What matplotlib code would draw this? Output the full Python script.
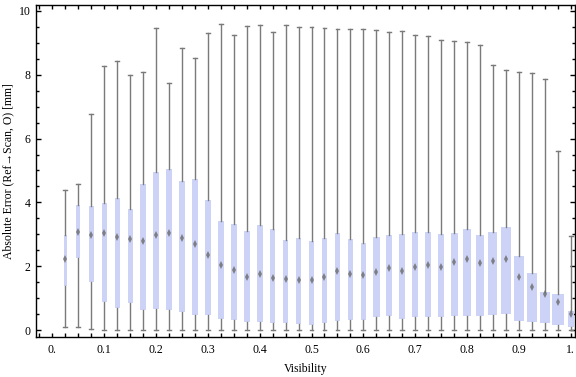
import matplotlib
matplotlib.use("Agg")
import matplotlib.pyplot as plt
from matplotlib.ticker import MultipleLocator, FixedLocator

plt.rcParams['font.family'] = ['Liberation Serif', 'DejaVu Serif']
plt.rcParams['font.size'] = 8.5

# visibility bins and box statistics (absolute error, mm)
visibility = [0.025, 0.05, 0.075, 0.1, 0.125, 0.15, 0.175, 0.2, 0.225, 0.25,
              0.275, 0.3, 0.325, 0.35, 0.375, 0.4, 0.425, 0.45, 0.475, 0.5,
              0.525, 0.55, 0.575, 0.6, 0.625, 0.65, 0.675, 0.7, 0.725, 0.75,
              0.775, 0.8, 0.825, 0.85, 0.875, 0.9, 0.925, 0.95, 0.975, 1.0]

whisker_low = [0.08, 0.08, 0.02] + [0.0] * 37

q1 = [1.39, 2.27, 1.52, 0.87, 0.68, 0.85, 0.64, 0.67, 0.64, 0.57,
      0.48, 0.48, 0.36, 0.32, 0.26, 0.26, 0.23, 0.23, 0.20, 0.17,
      0.23, 0.29, 0.32, 0.32, 0.42, 0.45, 0.36, 0.42, 0.42, 0.42,
      0.45, 0.45, 0.45, 0.48, 0.51, 0.29, 0.26, 0.21, 0.17, 0.10]

median = [2.22, 3.06, 2.97, 3.03, 2.91, 2.84, 2.80, 2.99, 3.05, 2.88,
          2.69, 2.34, 2.03, 1.87, 1.65, 1.75, 1.62, 1.59, 1.56, 1.56,
          1.67, 1.84, 1.76, 1.72, 1.82, 1.93, 1.86, 1.98, 2.05, 1.97,
          2.14, 2.24, 2.09, 2.16, 2.24, 1.66, 1.35, 1.12, 0.87, 0.50]

q3 = [2.98, 3.92, 3.89, 3.98, 4.14, 3.79, 4.59, 4.94, 5.05, 4.67,
      4.73, 4.08, 3.42, 3.32, 3.10, 3.29, 3.17, 2.82, 2.88, 2.79,
      2.88, 3.04, 2.84, 2.73, 2.92, 2.98, 3.01, 3.07, 3.07, 3.01,
      3.04, 3.17, 2.98, 3.07, 3.23, 2.32, 1.79, 1.19, 1.13, 0.60]

whisker_high = [4.39, 4.58, 6.76, 8.28, 8.42, 7.98, 8.09, 9.46, 7.73, 8.83,
                8.52, 9.30, 9.58, 9.25, 9.52, 9.55, 9.33, 9.55, 9.49, 9.49,
                9.46, 9.43, 9.43, 9.43, 9.39, 9.33, 9.36, 9.24, 9.21, 9.08,
                9.05, 9.02, 8.92, 8.30, 8.14, 8.08, 8.05, 7.86, 5.61, 2.95]

# relative box widths (largest = 1)
rel_width = [0.28, 0.33, 0.39, 0.42, 0.42, 0.42, 0.44, 0.44, 0.47, 0.50,
             0.50, 0.50, 0.50, 0.50, 0.47, 0.47, 0.47, 0.44, 0.44, 0.44,
             0.44, 0.47, 0.44, 0.47, 0.54, 0.53, 0.47, 0.53, 0.53, 0.53,
             0.58, 0.64, 0.61, 0.75, 0.81, 0.83, 0.83, 0.83, 1.00, 0.50]

stats = []
for i in range(len(visibility)):
    stats.append(dict(whislo=whisker_low[i], q1=q1[i], med=median[i],
                      q3=q3[i], whishi=whisker_high[i]))

fig = plt.figure(figsize=(5.76, 3.77), dpi=100)
ax = fig.add_axes([0.0625, 0.106, 0.936, 0.882])

max_w = 0.0232
widths = [w * max_w for w in rel_width]
ax.bxp(stats, positions=visibility, widths=widths, showfliers=False,
       patch_artist=True, manage_ticks=False,
       boxprops=dict(facecolor='#cdd3f6', edgecolor='none', linewidth=0),
       whiskerprops=dict(color='#7a7a7a', linewidth=1.0),
       capprops=dict(color='#7a7a7a', linewidth=1.0),
       capwidths=0.0075,
       medianprops=dict(linewidth=0))
ax.plot(visibility, median, linestyle='none', marker='d', markersize=3.6,
        color='#6a6a6a', markeredgewidth=0, alpha=0.8, zorder=5)

ax.set_xlim(-0.0315, 1.0085)
ax.set_ylim(-0.22, 10.2)

ax.xaxis.set_major_locator(FixedLocator([i / 10 for i in range(11)]))
ax.set_xticklabels(['0.', '0.1', '0.2', '0.3', '0.4', '0.5', '0.6', '0.7',
                    '0.8', '0.9', '1.'])
ax.xaxis.set_minor_locator(MultipleLocator(0.025))
ax.yaxis.set_major_locator(MultipleLocator(2))
ax.yaxis.set_minor_locator(MultipleLocator(0.5))

ax.tick_params(axis='both', which='both', direction='in', top=True, right=True,
               width=1.0, color='black')
ax.tick_params(axis='x', which='both', length=3.2, pad=5)
ax.tick_params(axis='y', which='major', length=3.4, pad=4)
ax.tick_params(axis='y', which='minor', length=2.0)
for sp in ax.spines.values():
    sp.set_linewidth(1.0)

ax.set_xlabel('Visibility', labelpad=5)
ax.set_ylabel('Absolute Error (Ref\u2192Scan, O) [mm]', labelpad=3)

fig.savefig('out.png', dpi=100)
